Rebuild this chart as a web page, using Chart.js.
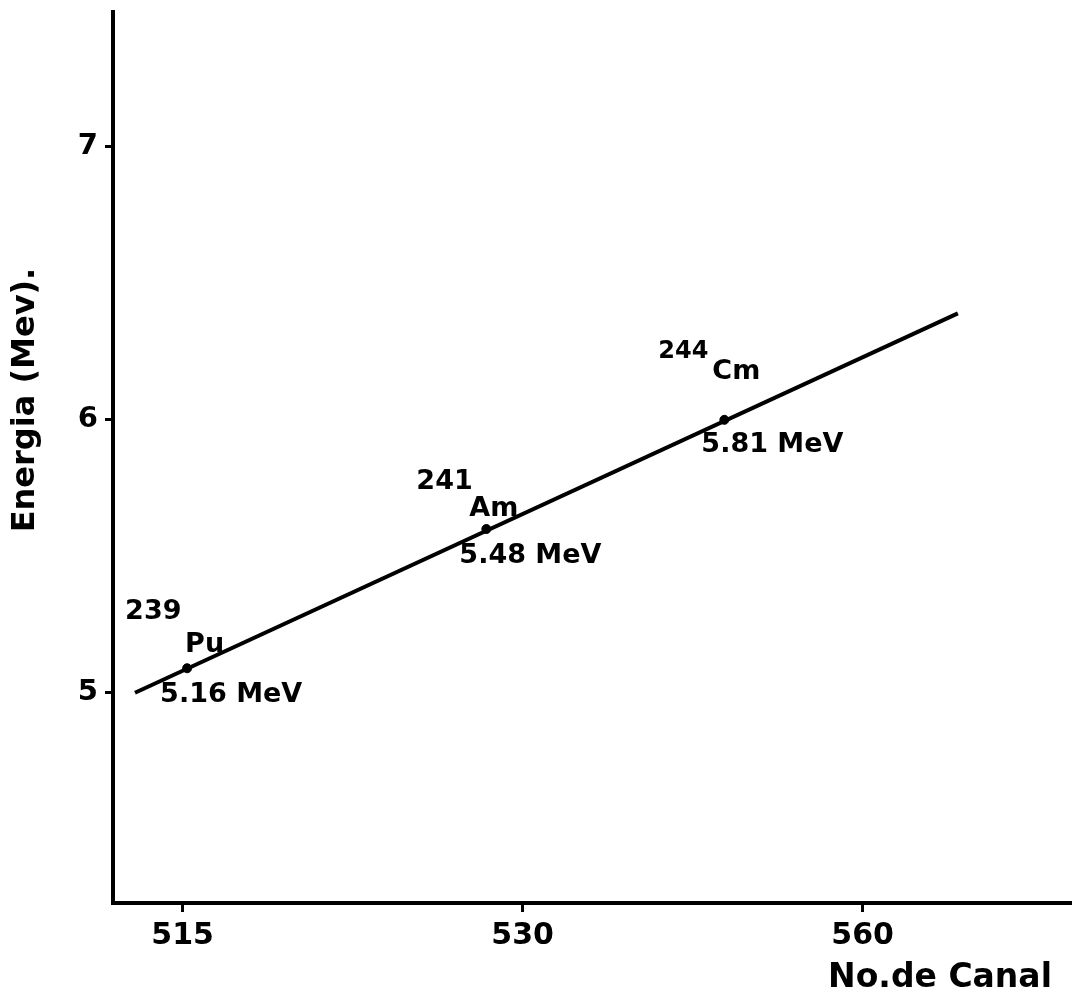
<!DOCTYPE html>
<html>
<head>
<meta charset="utf-8">
<script src="https://cdn.jsdelivr.net/npm/chart.js@4.4.1/dist/chart.umd.min.js"></script>
<style>
  html, body { margin: 0; padding: 0; background: #fff; }
</style>
</head>
<body>
<canvas id="calib" width="1076" height="995"></canvas>
<script>
// calibration data
const lineX = [512.9, 549.2];          // fitted line ends (No. de canal)
const lineY = [5.0, 6.39];             // fitted line ends (MeV)
const pointX = [515.2, 528.4, 538.9];  // measured peaks
const pointY = [5.09, 5.60, 6.0];
const massNumbers = ['239', '241', '244'];
const elements = ['Pu', 'Am', 'Cm'];
const energies = ['5.16 MeV', '5.48 MeV', '5.81 MeV'];
const xTickValues = [515, 530, 545];
const xTickLabels = ['515', '530', '560'];
const yTickValues = [5, 6, 7];

const FONT = '"DejaVu Sans", sans-serif';

// where the isotope labels sit around each dot (px)
const labelOffsets = [
  { mass: [-62, -56], el: [-2, -23], en: [-27, 27] },
  { mass: [-70, -47], el: [-17, -20], en: [-27, 27] },
  { mass: [-66, -68], el: [-12, -48], en: [-23, 25] }
];

const annotate = {
  id: 'annotate',
  afterDatasetsDraw(chart) {
    const c = chart.ctx;
    const xs = chart.scales.x, ys = chart.scales.y;
    c.save();
    c.fillStyle = '#000';
    c.textBaseline = 'middle';
    c.textAlign = 'left';
    pointX.forEach((v, i) => {
      const px = xs.getPixelForValue(v);
      const py = ys.getPixelForValue(pointY[i]);
      const o = labelOffsets[i];
      c.font = 'bold ' + (i === 2 ? 24 : 27) + 'px ' + FONT;
      c.fillText(massNumbers[i], px + o.mass[0], py + o.mass[1]);
      c.font = 'bold 27px ' + FONT;
      c.fillText(elements[i], px + o.el[0], py + o.el[1]);
      c.fillText(energies[i], px + o.en[0], py + o.en[1]);
    });
    // axis titles
    c.font = 'bold 32px ' + FONT;
    c.save();
    c.translate(26, 400);
    c.rotate(-Math.PI / 2);
    c.textAlign = 'center';
    c.fillText('Energia (Mev).', 0, 0);
    c.restore();
    c.textAlign = 'center';
    c.font = 'bold 33px ' + FONT;
    c.fillText('No.de Canal', 940, 978);
    c.restore();
  }
};

new Chart(document.getElementById('calib'), {
  type: 'scatter',
  data: {
    datasets: [
      {
        data: lineX.map((x, i) => ({ x: x, y: lineY[i] })),
        showLine: true,
        borderColor: '#000',
        borderWidth: 4,
        pointRadius: 0
      },
      {
        data: pointX.map((x, i) => ({ x: x, y: pointY[i] })),
        pointRadius: 4.5,
        pointBackgroundColor: '#000',
        pointBorderColor: '#000'
      }
    ]
  },
  options: {
    responsive: false,
    animation: false,
    devicePixelRatio: 1,
    layout: { padding: { top: 12, right: 0, left: 0, bottom: 0 } },
    plugins: { legend: { display: false }, tooltip: { enabled: false } },
    scales: {
      x: {
        type: 'linear',
        min: 511.93,
        max: 554.17,
        afterBuildTicks: s => { s.ticks = xTickValues.map(v => ({ value: v })); },
        afterFit: s => { s.height = 92; s.paddingLeft = 0; s.paddingRight = 0; },
        border: { display: true, color: '#000', width: 4 },
        grid: { display: true, drawOnChartArea: false, color: '#000', lineWidth: 3, tickLength: 9 },
        ticks: {
          color: '#000',
          padding: 6,
          font: { family: FONT, size: 30, weight: 'bold' },
          callback: v => xTickLabels[xTickValues.indexOf(v)]
        }
      },
      y: {
        type: 'linear',
        min: 4.23,
        max: 7.494,
        afterBuildTicks: s => { s.ticks = yTickValues.map(v => ({ value: v })); },
        afterFit: s => { s.width = 113; s.paddingTop = 0; s.paddingBottom = 0; },
        border: { display: true, color: '#000', width: 4 },
        grid: { display: true, drawOnChartArea: false, color: '#000', lineWidth: 3, tickLength: 8 },
        ticks: {
          color: '#000',
          padding: 7,
          font: { family: FONT, size: 29, weight: 'bold' }
        }
      }
    }
  },
  plugins: [annotate]
});
</script>
</body>
</html>
